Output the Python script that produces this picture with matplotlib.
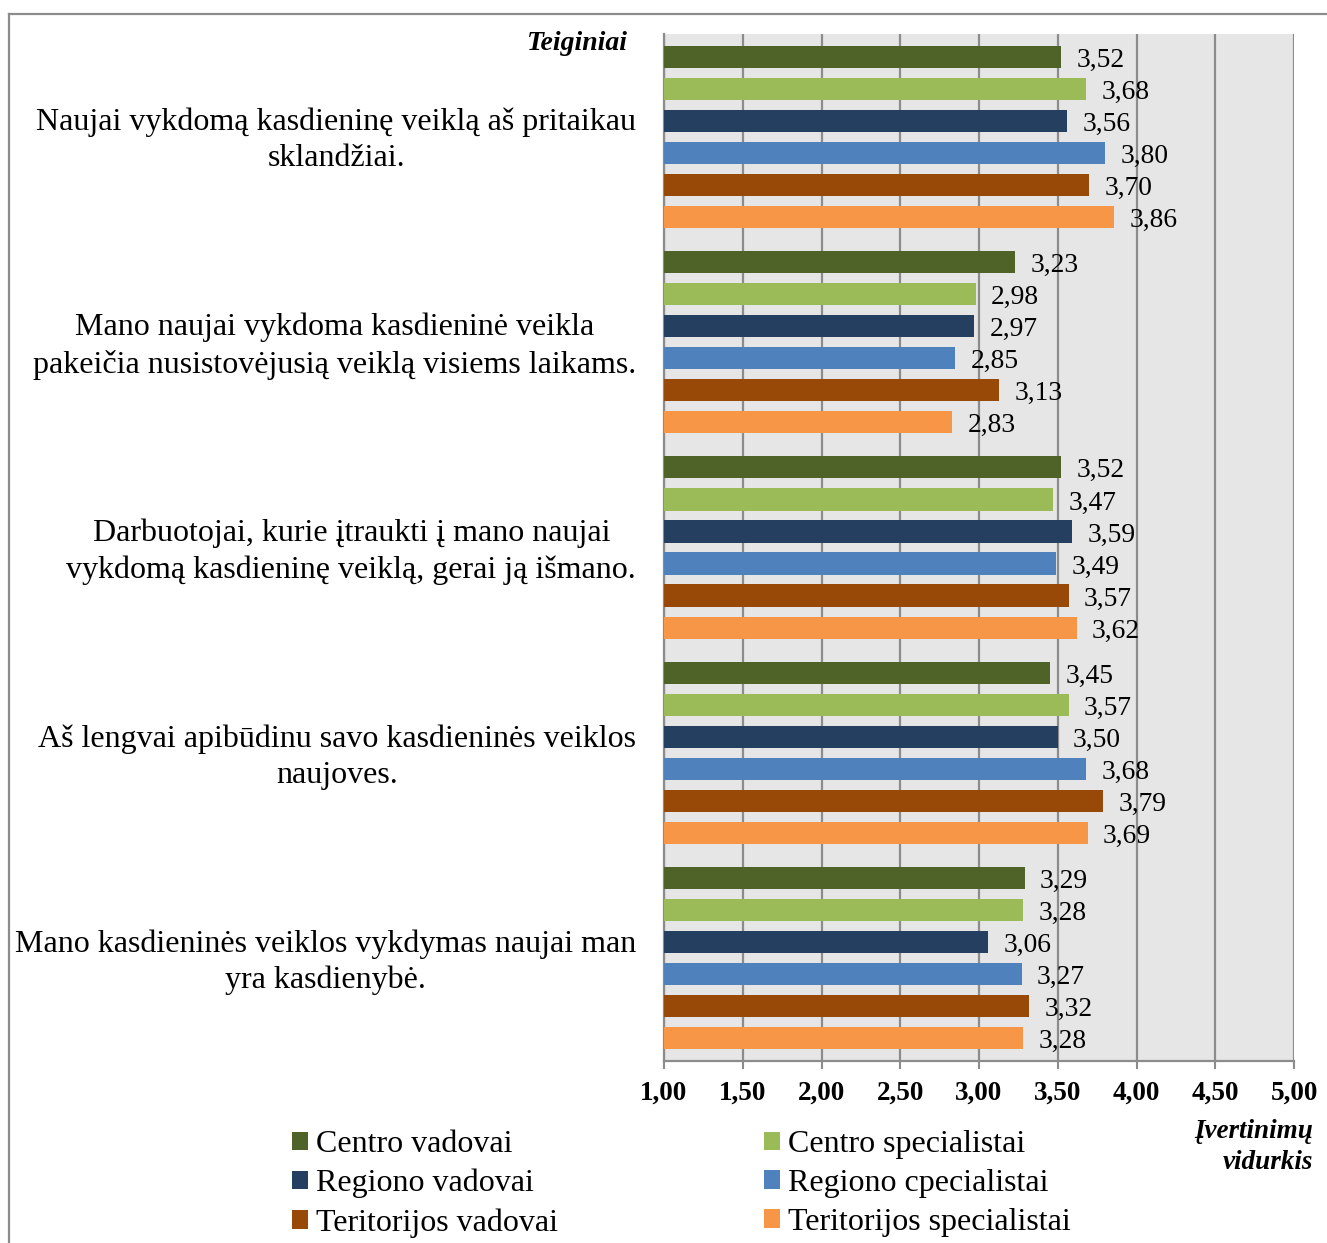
import matplotlib
matplotlib.use("Agg")
import matplotlib.pyplot as plt
from matplotlib.patches import Patch
from matplotlib.lines import Line2D
from matplotlib.transforms import ScaledTranslation
import numpy as np

plt.rcParams['font.family'] = ['Liberation Serif', 'DejaVu Serif']

statements = [
    "Naujai vykdomą kasdieninę veiklą aš pritaikau\nsklandžiai.",
    "Mano naujai vykdoma kasdieninė veikla\npakeičia nusistovėjusią veiklą visiems laikams.",
    "Darbuotojai, kurie įtraukti į mano naujai\nvykdomą kasdieninę veiklą, gerai ją išmano.",
    "Aš lengvai apibūdinu savo kasdieninės veiklos\nnaujoves.",
    "Mano kasdieninės veiklos vykdymas naujai man\nyra kasdienybė.",
]

groups = [
    "Centro vadovai",
    "Centro specialistai",
    "Regiono vadovai",
    "Regiono cpecialistai",
    "Teritorijos vadovai",
    "Teritorijos specialistai",
]

centro_vadovai = [3.52, 3.23, 3.52, 3.45, 3.29]
centro_specialistai = [3.68, 2.98, 3.47, 3.57, 3.28]
regiono_vadovai = [3.56, 2.97, 3.59, 3.50, 3.06]
regiono_specialistai = [3.80, 2.85, 3.49, 3.68, 3.27]
teritorijos_vadovai = [3.70, 3.13, 3.57, 3.79, 3.32]
teritorijos_specialistai = [3.86, 2.83, 3.62, 3.69, 3.28]

series = [centro_vadovai, centro_specialistai, regiono_vadovai,
          regiono_specialistai, teritorijos_vadovai, teritorijos_specialistai]

colors = ["#4F6228", "#9BBB59", "#243F60", "#4F81BD", "#984807", "#F79646"]

x_ticks = [1.0, 1.5, 2.0, 2.5, 3.0, 3.5, 4.0, 4.5, 5.0]

W, H = 1327, 1243
fig = plt.figure(figsize=(W / 100, H / 100), dpi=100)
ax = fig.add_axes([664 / W, 1 - 1061 / H, (1294 - 664) / W, (1061 - 34) / H])

ax.set_facecolor("#E6E6E6")
grid_color = "#8C8C8C"

step = 0.156
bar_h = 0.108
y_base = np.arange(len(statements))
for j, (vals, col) in enumerate(zip(series, colors)):
    ys = y_base + (j - 2.5) * step
    ax.barh(ys, vals, height=bar_h, color=col, zorder=3)
    for y, v in zip(ys, vals):
        ax.annotate(f"{v:.2f}".replace(".", ","), xy=(v, y),
                    xytext=(11, -2.5), textcoords="offset points",
                    va="center", ha="left", fontsize=19.8, zorder=4)

ax.set_xlim(1.0, 5.0)
ax.set_ylim(len(statements) - 0.5, -0.5)

ax.set_xticks(x_ticks)
ax.set_xticklabels([f"{t:.2f}".replace(".", ",") for t in x_ticks],
                   fontsize=19.5, fontweight="bold")
ax.tick_params(axis="x", direction="out", length=6, width=1.5,
               color=grid_color, pad=8.5)
ax.xaxis.grid(True, color=grid_color, linewidth=1.6, zorder=1)
ax.set_axisbelow(True)

ax.set_yticks(y_base)
ax.set_yticklabels(statements, fontsize=23, multialignment="center",
                   linespacing=1.32)
ax.tick_params(axis="y", length=0, pad=20)
lift = ScaledTranslation(0, 3 / 100, fig.dpi_scale_trans)
for lbl in ax.get_yticklabels():
    lbl.set_transform(lbl.get_transform() + lift)

for s in ["top", "right"]:
    ax.spines[s].set_visible(False)
for s in ["left", "bottom"]:
    ax.spines[s].set_color(grid_color)
    ax.spines[s].set_linewidth(1.6)

fig.text(628 / W, 1 - 43 / H, "Teiginiai", ha="right", va="center",
         fontsize=20, fontweight="bold", fontstyle="italic")
fig.text(1313 / W, 1 - 1147 / H, "Įvertinimų\nvidurkis", ha="right",
         va="center", fontsize=19.5, fontweight="bold", fontstyle="italic",
         linespacing=1.35)

order = [0, 2, 4, 1, 3, 5]
handles = [Patch(facecolor=colors[i]) for i in order]
labels = [groups[i] for i in order]
fig.legend(handles, labels, ncol=2, loc="upper left",
           bbox_to_anchor=(292 / W, 1 - 1130 / H), frameon=False,
           fontsize=23, handlelength=0.5, handleheight=0.5,
           handletextpad=0.25, labelspacing=0.31, columnspacing=6.45,
           borderpad=0, borderaxespad=0)

# outer frame
fig.add_artist(Line2D([8.5 / W, 1], [1 - 13.5 / H, 1 - 13.5 / H],
                      transform=fig.transFigure, color=grid_color, lw=1.6))
fig.add_artist(Line2D([8.5 / W, 8.5 / W], [0, 1 - 13.5 / H],
                      transform=fig.transFigure, color=grid_color, lw=1.6))

fig.savefig("out.png", dpi=100, facecolor="white")
